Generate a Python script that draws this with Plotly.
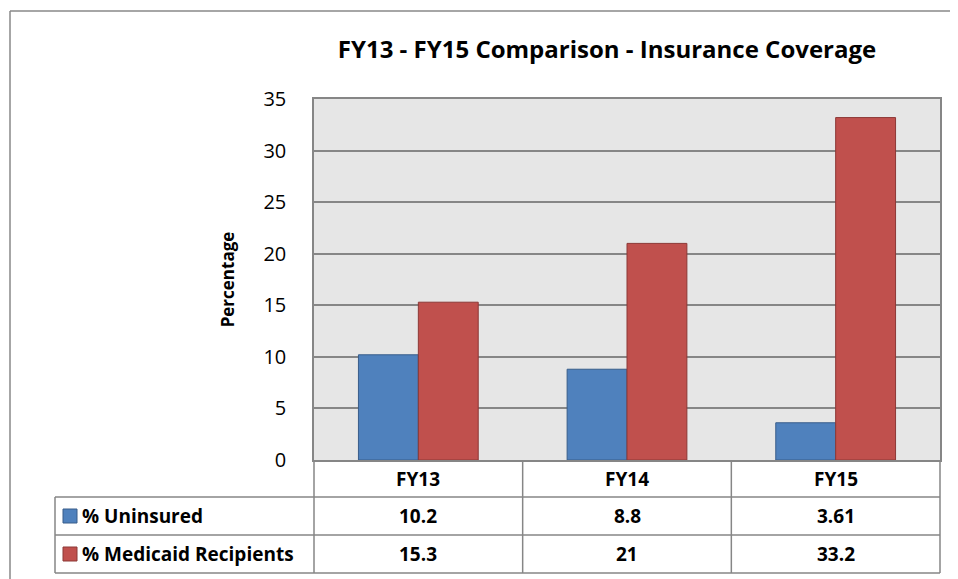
import plotly.graph_objects as go

years = ["FY13", "FY14", "FY15"]
series_names = ["% Uninsured", "% Medicaid Recipients"]
uninsured = [10.2, 8.8, 3.61]
medicaid = [15.3, 21, 33.2]
table_text = [["10.2", "8.8", "3.61"], ["15.3", "21", "33.2"]]

fills = ["#4f81bd", "#c0504d"]
edges = ["#385d8a", "#8c3836"]
grid = "#868686"
font = "Open Sans"

# the page body has an 8px margin, so the figure is shifted by that much
OFF = 8
W, H = 958 - OFF, 579 - OFF
# plot area in page pixels: x 314..940, y 99..460
L, T = 314 - OFF, 99 - OFF
R, B = W - (940 - OFF), H - (460 - OFF)
pw = W - L - R
ph = H - T - B


def px(x):
    return (x - OFF - L) / pw


def py(y):
    return (H - B - (y - OFF)) / ph


fig = go.Figure()
for name, vals, c, e in zip(series_names, [uninsured, medicaid], fills, edges):
    fig.add_trace(go.Bar(x=years, y=vals, name=name, marker_color=c,
                         marker_line=dict(color=e, width=1)))

shapes = []
line = dict(color=grid, width=1.5)
# outer chart border
shapes.append(dict(type="line", xref="paper", yref="paper", x0=px(10), x1=px(958), y0=py(11), y1=py(11),
                   line=dict(color="#888888", width=1.5)))
shapes.append(dict(type="line", xref="paper", yref="paper", x0=px(10), x1=px(10), y0=py(11), y1=py(579),
                   line=dict(color="#888888", width=1.5)))
# data table
for yy in [497, 535, 573]:
    shapes.append(dict(type="line", xref="paper", yref="paper", x0=px(55), x1=1, y0=py(yy), y1=py(yy), line=line))
shapes.append(dict(type="line", xref="paper", yref="paper", x0=px(55), x1=px(55), y0=py(497), y1=py(573), line=line))
for i in range(len(years) + 1):
    xx = i / len(years)
    shapes.append(dict(type="line", xref="paper", yref="paper", x0=xx, x1=xx, y0=0, y1=py(573), line=line))
# legend keys
rows = [516, 554]
for j, (c, e) in enumerate(zip(fills, edges)):
    yc = rows[j]
    shapes.append(dict(type="rect", xref="paper", yref="paper", x0=px(63), x1=px(77), y0=py(yc - 7), y1=py(yc + 7),
                       fillcolor=c, line=dict(color=e, width=1)))

ann = []
tf = dict(family=font, size=19, color="#000000")
for i, yr in enumerate(years):
    ann.append(dict(x=yr, xref="x", y=py(479), yref="paper", yanchor="middle", text="<b>%s</b>" % yr,
                    showarrow=False, font=tf))
    for j in range(len(series_names)):
        ann.append(dict(x=yr, xref="x", y=py(rows[j]), yref="paper", yanchor="middle",
                        text="<b>%s</b>" % table_text[j][i], showarrow=False, font=tf))
for j, name in enumerate(series_names):
    ann.append(dict(x=px(80), xref="paper", xanchor="left", y=py(rows[j]), yref="paper", yanchor="middle",
                    text="<b>%s</b>" % name, showarrow=False, font=tf))

fig.update_layout(
    width=W, height=H,
    margin=dict(l=L, r=R, t=T, b=B),
    paper_bgcolor="white", plot_bgcolor="#e6e6e6",
    barmode="group", bargap=0.426, bargroupgap=0,
    showlegend=False,
    title=dict(text="<b>FY13 - FY15 Comparison - Insurance Coverage</b>", xref="container",
               x=(607 - OFF) / W, xanchor="center",
               y=1 - (50 - OFF) / H, yanchor="middle", font=dict(family=font, size=24, color="#000000")),
    shapes=shapes, annotations=ann,
    font=dict(family=font, color="#000000"),
)
fig.update_xaxes(showticklabels=False, showgrid=False, showline=True, linecolor=grid, linewidth=1.5,
                 mirror=True, ticks="")
fig.update_yaxes(range=[0, 35], dtick=5, showgrid=True, gridcolor=grid, gridwidth=1.5,
                 showline=True, linecolor=grid, linewidth=1.5, mirror=True, zeroline=False,
                 ticks="", ticklabelstandoff=22, tickfont=dict(family=font, size=20),
                 title=dict(text="<b>Percentage</b>", font=dict(family=font, size=17), standoff=24))

fig.write_html("out.html", config={"displayModeBar": False})
